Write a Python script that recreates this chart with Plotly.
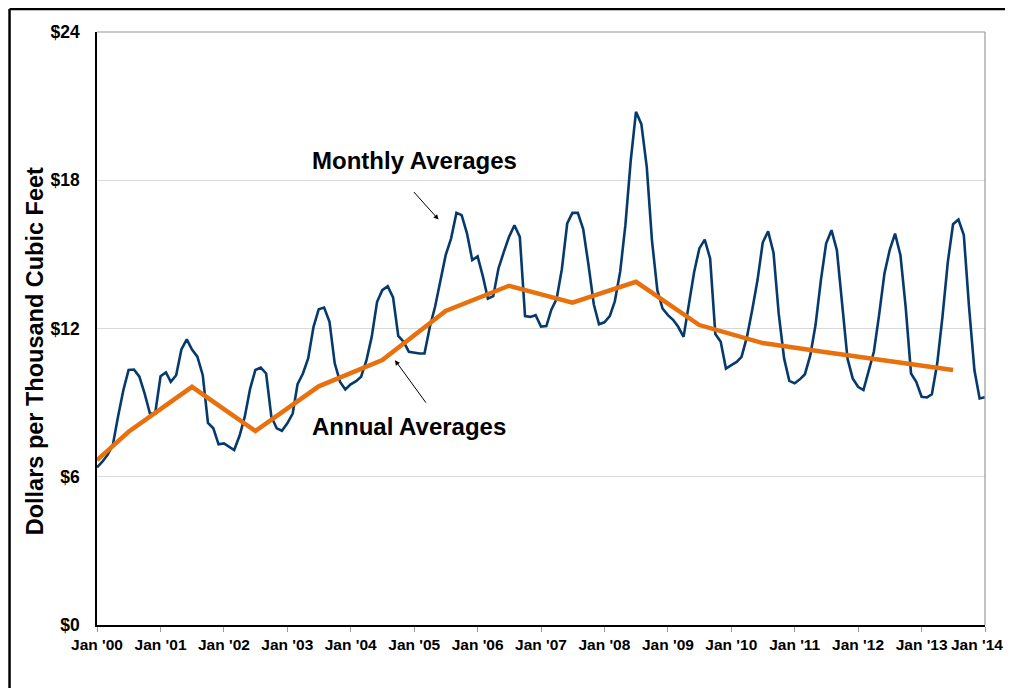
import pandas as pd
import plotly.graph_objects as go

# monthly averages, Jan 2000 .. Jan 2014
months = pd.date_range("2000-01-01", "2014-01-01", freq="MS")
monthly = [
    6.38, 6.61, 6.88, 7.28, 8.43, 9.51, 10.32, 10.34, 10.05, 9.37, 8.56, 8.56,
    10.07, 10.22, 9.84, 10.11, 11.15, 11.56, 11.15, 10.86, 10.11, 8.18, 7.96, 7.31,
    7.35, 7.21, 7.08, 7.66, 8.43, 9.57, 10.32, 10.42, 10.18, 8.43, 7.96, 7.86,
    8.16, 8.56, 9.75, 10.18, 10.79, 12.07, 12.78, 12.85, 12.27, 10.59, 9.84, 9.53,
    9.74, 9.87, 10.05, 10.72, 11.66, 13.08, 13.55, 13.71, 13.26, 11.70, 11.46, 11.06,
    11.02, 10.99, 10.99, 12.07, 12.88, 13.96, 14.97, 15.64, 16.68, 16.59, 15.84, 14.77,
    14.92, 14.09, 13.21, 13.31, 14.43, 15.10, 15.71, 16.18, 15.71, 12.50, 12.47, 12.54,
    12.08, 12.10, 12.75, 13.20, 14.40, 16.25, 16.68, 16.68, 16.02, 14.60, 12.98, 12.17,
    12.25, 12.50, 13.10, 14.30, 16.18, 18.81, 20.77, 20.27, 18.54, 15.57, 13.55, 12.81,
    12.54, 12.34, 12.07, 11.66, 12.88, 14.29, 15.24, 15.60, 14.83, 11.78, 11.46, 10.38,
    10.52, 10.65, 10.85, 11.66, 12.74, 13.96, 15.48, 15.93, 15.07, 12.60, 10.79, 9.88,
    9.78, 9.95, 10.15, 10.92, 12.14, 13.96, 15.44, 15.98, 15.17, 13.01, 10.79, 9.98,
    9.64, 9.51, 10.25, 11.06, 12.54, 14.23, 15.17, 15.84, 14.97, 12.88, 10.18, 9.84,
    9.24, 9.21, 9.34, 10.59, 12.47, 14.70, 16.22, 16.41, 15.78, 12.88, 10.32, 9.17,
    9.22,
]

# annual averages (plotted mid-year)
annual_dates = ["2000-01-01", "2000-07-01", "2001-07-01", "2002-07-01", "2003-07-01",
                "2004-07-01", "2005-07-01", "2006-07-01", "2007-07-01", "2008-07-01",
                "2009-07-01", "2010-07-01", "2011-07-01", "2012-07-01", "2013-07-01"]
annual = [6.67, 7.82, 9.64, 7.85, 9.66, 10.72, 12.71, 13.73, 13.05, 13.89,
          12.14, 11.41, 11.04, 10.69, 10.32]

# x tick labels (the last one is placed by hand so it is not cut off at the page edge)
tick_dates = pd.date_range("2000-01-01", "2014-01-01", freq="YS")
tick_text = ["Jan '00", "Jan '01", "Jan '02", "Jan '03", "Jan '04", "Jan '05", "Jan '06",
             "Jan '07", "Jan '08", "Jan '09", "Jan '10", "Jan '11", "Jan '12", "Jan '13",
             "Jan '14"]

FONT = "Arial, 'Liberation Sans', sans-serif"

fig = go.Figure()
fig.add_trace(go.Scatter(x=months, y=monthly, mode="lines",
                         line=dict(color="#063a6c", width=2.6)))
fig.add_trace(go.Scatter(x=annual_dates, y=annual, mode="lines",
                         line=dict(color="#e8700d", width=4.5)))

# page has an 8px body margin, so the figure starts at (8, 8)
fig.update_layout(
    width=997, height=680,
    margin=dict(l=89, r=20, t=24, b=63, autoexpand=False),
    paper_bgcolor="white", plot_bgcolor="white",
    showlegend=False,
    font=dict(family=FONT, color="black"),
)
fig.update_xaxes(
    type="date", range=["2000-01-01", "2014-01-01"],
    tickvals=tick_dates, ticktext=tick_text[:-1] + [""],
    ticks="outside", ticklen=5, tickcolor="#999999",
    showgrid=False, showline=True, linecolor="black", linewidth=1.5,
    automargin=False,
    tickfont=dict(size=15.5, family=FONT, weight="bold"),
)
fig.update_yaxes(
    range=[0, 24], dtick=6, tickprefix="$", tickformat="d",
    showgrid=True, gridcolor="#d9d9d9", gridwidth=1,
    showline=True, linecolor="black", linewidth=1.5,
    ticks="", ticklabelstandoff=12, zeroline=False, automargin=False,
    tickfont=dict(size=17.5, family=FONT, weight="bold"),
)
fig.add_annotation(xref="paper", yref="paper", x=1.0225, y=-0.0337,
                   xanchor="right", yanchor="middle", showarrow=False,
                   text=tick_text[-1], font=dict(size=15.5, family=FONT, weight="bold"))

# plot area top/right border and the outer frame
fig.add_shape(type="line", xref="paper", yref="paper", x0=0, x1=1, y0=1, y1=1,
              line=dict(color="#999999", width=1.2))
fig.add_shape(type="line", xref="paper", yref="paper", x0=1, x1=1, y0=0, y1=1,
              line=dict(color="#999999", width=1.2))
fig.add_shape(type="line", xref="paper", yref="paper", x0=-0.0985, x1=-0.0985,
              y0=-0.13, y1=1.0388, line=dict(color="black", width=2.5))
fig.add_shape(type="line", xref="paper", yref="paper", x0=-0.0985, x1=1.05,
              y0=1.0388, y1=1.0388, line=dict(color="black", width=2.5))

fig.add_annotation(xref="paper", yref="paper", x=-0.0695, y=0.462,
                   xanchor="center", yanchor="middle",
                   text="Dollars per Thousand Cubic Feet", textangle=-90,
                   showarrow=False, font=dict(size=23.5, family=FONT, weight="bold"))

fig.add_annotation(x="2005-01-01", y=18.81, text="Monthly Averages", showarrow=False,
                   font=dict(size=24, family=FONT, weight="bold"))
fig.add_annotation(x="2004-12-01", y=8.05, text="Annual Averages", showarrow=False,
                   font=dict(size=24, family=FONT, weight="bold"))
fig.add_annotation(x="2005-05-21", y=16.41, ax=-26, ay=-29, text="",
                   showarrow=True, arrowhead=2, arrowsize=1, arrowwidth=1, arrowcolor="black")
fig.add_annotation(x="2004-09-12", y=10.72, ax=32, ay=44, text="",
                   showarrow=True, arrowhead=2, arrowsize=1, arrowwidth=1, arrowcolor="black")

fig.write_html("out.html")
